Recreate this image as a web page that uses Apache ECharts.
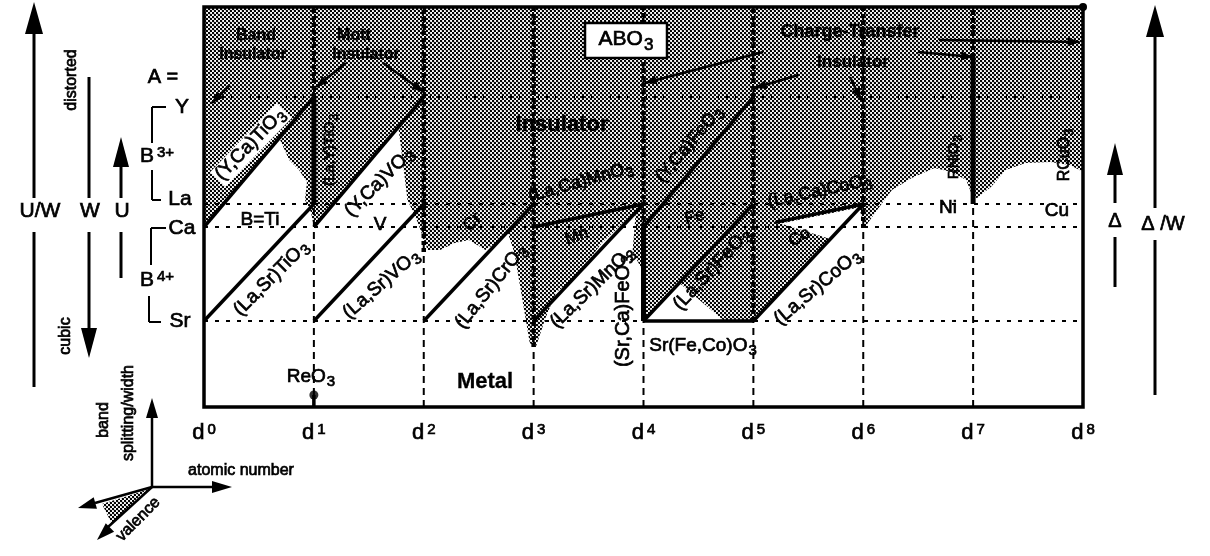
<!DOCTYPE html>
<html><head><meta charset="utf-8">
<script src="https://cdn.jsdelivr.net/npm/echarts@6/dist/echarts.min.js"></script>
<style>html,body{margin:0;padding:0;background:#fff}#c{width:1210px;height:556px}</style>
</head><body><div id="c"></div>
<script>
// ---------- data (in chart units: x = d-electron number, y = arbitrary level scale) ----------
const dTicks = [0, 1, 2, 3, 4, 5, 6, 7, 8];
const levelNames = ['Sr', 'Ca', 'La', 'Y'];
const levelValues = [8.6, 18.0, 20.3, 31.0];
const Sr = levelValues[0], Ca = levelValues[1], La = levelValues[2], Yv = levelValues[3];
const yTop = 40;

// insulator (shaded) region: upper boundary of the metallic region, left -> right
const insulatorBoundary = [
  [0, 40], [0, 18.0], [0.685, 26.9], [0.775, 24.7], [0.865, 23.7], [0.937, 22.5], [0.919, 20.7], [0.973, 19.5], [1.0, 18.0],
  [1.769, 28.0], [1.815, 24.0], [1.852, 20.7], [1.944, 18.5], [2.035, 15.7], [2.149, 15.7], [2.281, 16.4], [2.412, 16.7], [2.561, 15.7],
  [2.675, 16.5], [2.763, 17.5], [2.825, 15.4], [2.965, 6.4], [3.02, 6.0], [3.108, 8.9], [3.206, 11.5], [3.324, 12.4],
  [3.45, 13.9], [3.62, 16.4], [3.93, 19.6], [3.9, 15.5], [4.0, 13.5], [4.0, 8.6], [4.327, 12.4], [4.735, 8.6], [5.0, 8.6],
  [5.7, 16.8], [5.25, 18.35], [5.963, 19.95], [6.01, 17.9], [6.126, 19.7], [6.261, 21.7], [6.441, 22.9], [6.649, 23.9],
  [6.802, 23.5], [6.937, 22.7], [7.0, 20.9], [7.036, 20.9], [7.162, 22.0], [7.297, 23.7], [7.477, 24.4], [7.703, 24.5],
  [7.883, 24.2], [8.0, 23.5], [8, 40]
];

// compound series lines [x1, y1, x2, y2]
const compoundLines = [
  [0, Ca, 1, Yv], [0, Sr, 1, La],          // Ti
  [1, Ca, 2, Yv], [1, Sr, 2, La],          // V
  [2, Sr, 3, La],                          // Cr
  [3, Sr, 4, La], [3, Ca, 4, La],          // Mn
  [4, Ca, 5, Yv], [4, Sr, 5, La], [4, Sr, 5, Sr], // Fe
  [5, Sr, 6, La], [5.2, 18.46, 6, La],     // Co
  [1, 0, 1, 1.2]                           // ReO3 stem
];
const thickVerticals = [[1, La, 1, Yv], [4, Sr, 4, Ca], [7, La, 7, 35]];
const thickDotted = [[1, 31, 1, 40], [2, 15.5, 2, 40], [3, 6, 3, 40], [4, 18, 4, 40], [5, 8.6, 5, 40], [6, 17.9, 6, 40], [7, 35, 7, 40]];
const dashedVerticals = [1, 2, 3, 4, 5, 6, 7];
const reo3Point = [[1, 1.2]];

// annotation arrows [fromX, fromY, toX, toY] (head at "to")
const arrows = [
  [0.234, 32.2, 0.072, 30.4],
  [1.29, 34.4, 1.02, 32.0],
  [1.63, 34.4, 2.0, 31.5],
  [5.09, 35.5, 4.01, 32.4],
  [5.41, 33.2, 5.01, 31.9],
  [5.88, 33.0, 5.98, 30.7],
  [6.5, 35.5, 7.0, 35.0],
  [6.69, 36.7, 7.97, 36.5]
];

// ---------- helpers ----------
const FONT = '"Liberation Sans", Arial, Helvetica, sans-serif';
const pc = document.createElement('canvas'); pc.width = 4; pc.height = 4;
(function () {
  const g = pc.getContext('2d'); g.fillStyle = '#000';
  g.beginPath(); g.arc(1, 1, 1.25, 0, Math.PI * 2); g.fill();
  g.beginPath(); g.arc(3, 3, 1.25, 0, Math.PI * 2); g.fill();
})();
const shade = { image: pc, repeat: 'repeat' };

function richOf(str, size, bold) {
  let s = str.replace(/_(\d)/g, '}{s|$1}{a|').replace(/\^(\S+)/g, '}{p|$1}{a|');
  s = ('{a|' + s + '}').replace(/\{a\|\}/g, '');
  const w = bold ? 'bold' : 'normal';
  const sw = bold ? 0.3 : 0.7;
  const ss = Math.round(size * 0.8), ps = Math.round(size * 0.7);
  return {
    text: s,
    rich: {
      a: { fontSize: size, fontFamily: FONT, fontWeight: w, fill: '#000', stroke: '#000', lineWidth: sw, lineHeight: size + 2, verticalAlign: 'top' },
      s: { fontSize: ss, fontFamily: FONT, fontWeight: w, fill: '#000', stroke: '#000', lineWidth: sw, lineHeight: ss + 1, verticalAlign: 'top', padding: [Math.round(size * 0.38), 0, 0, 1] },
      p: { fontSize: ps, fontFamily: FONT, fontWeight: w, fill: '#000', stroke: '#000', lineWidth: sw, lineHeight: ps + 1, verticalAlign: 'top', padding: [0, 0, 0, 3] }
    }
  };
}
function txt(str, x, y, size, rot, bold, extra) {
  const st = Object.assign({ x: 0, y: 0, align: 'center', verticalAlign: 'middle' }, richOf(str, size, bold), extra || {});
  return { type: 'text', x: x, y: y, rotation: (rot || 0) * Math.PI / 180, z: 60, silent: true, style: st };
}
function gline(x1, y1, x2, y2, w, dash) {
  return { type: 'line', silent: true, z: 55, shape: { x1, y1, x2, y2 }, style: { stroke: '#000', lineWidth: w, lineDash: dash || null } };
}
function head(tx, ty, fx, fy, len, hw) {
  const dx = tx - fx, dy = ty - fy, L = Math.hypot(dx, dy), ux = dx / L, uy = dy / L;
  const bx = tx - ux * len, by = ty - uy * len;
  return { type: 'polygon', silent: true, z: 56, shape: { points: [[tx, ty], [bx - uy * hw, by + ux * hw], [bx + uy * hw, by - ux * hw]] }, style: { fill: '#000' } };
}

function segSeries(segs, width, dash, z) {
  return {
    type: 'custom', coordinateSystem: 'cartesian2d', z: z, silent: true, clip: false, animation: false,
    data: [[0, 0]],
    renderItem: function (params, api) {
      return {
        type: 'group', children: segs.map(function (s) {
          const a = api.coord([s[0], s[1]]), b = api.coord([s[2], s[3]]);
          return { type: 'line', shape: { x1: a[0], y1: a[1], x2: b[0], y2: b[1] }, style: { stroke: '#000', lineWidth: width, lineDash: dash || null, lineCap: 'butt' } };
        })
      };
    }
  };
}

const levelSegs = levelValues.map(v => [0, v, 8, v]);
const vSegs = dashedVerticals.map(d => [d, 0, d, yTop]);

const series = [
  { // shaded insulating region
    type: 'custom', coordinateSystem: 'cartesian2d', z: 1, silent: true, clip: false, animation: false, data: [[0, 0]],
    renderItem: function (params, api) {
      return { type: 'polygon', shape: { points: insulatorBoundary.map(p => api.coord(p)) }, style: { fill: shade } };
    }
  },
  segSeries([levelSegs[3]], 2, [2, 7], 3),
  segSeries(levelSegs.slice(0, 3), 2, [4, 7], 3),
  segSeries(vSegs, 2, [7, 5], 3),
  segSeries(thickDotted, 4.5, [4, 3], 4),
  segSeries(compoundLines, 3.5, null, 5),
  segSeries(thickVerticals, 5, null, 5),
  { // annotation arrows
    type: 'custom', coordinateSystem: 'cartesian2d', z: 6, silent: true, clip: false, animation: false, data: [[0, 0]],
    renderItem: function (params, api) {
      const ch = [];
      arrows.forEach(function (a) {
        const p = api.coord([a[0], a[1]]), q = api.coord([a[2], a[3]]);
        ch.push({ type: 'line', shape: { x1: p[0], y1: p[1], x2: q[0], y2: q[1] }, style: { stroke: '#000', lineWidth: 2.5 } });
        const dx = q[0] - p[0], dy = q[1] - p[1], L = Math.hypot(dx, dy), ux = dx / L, uy = dy / L;
        const bx = q[0] - ux * 12, by = q[1] - uy * 12;
        ch.push({ type: 'polygon', shape: { points: [[q[0], q[1]], [bx - uy * 4.5, by + ux * 4.5], [bx + uy * 4.5, by - ux * 4.5]] }, style: { fill: '#000' } });
      });
      return { type: 'group', children: ch };
    }
  },
  { // frame
    type: 'custom', coordinateSystem: 'cartesian2d', z: 7, silent: true, clip: false, animation: false, data: [[0, 0]],
    renderItem: function (params, api) {
      const a = api.coord([0, yTop]), b = api.coord([8, 0]);
      return { type: 'group', children: [
        { type: 'rect', shape: { x: a[0], y: a[1], width: b[0] - a[0], height: b[1] - a[1] }, style: { fill: null, stroke: '#000', lineWidth: 3.5 } },
        { type: 'circle', shape: { cx: b[0], cy: a[1], r: 4 }, style: { fill: '#000' } }
      ] };
    }
  },
  { type: 'scatter', data: reo3Point, symbolSize: 9, itemStyle: { color: '#000' }, z: 8, silent: true, animation: false }
];

// ---------- annotation texts / graphics (pixel layout) ----------
const g = [];
// left: big arrows
g.push(gline(34, 30, 34, 198, 3), gline(34, 232, 34, 387, 3), head(34, 2, 34, 40, 32, 9));
g.push(gline(89, 77, 89, 198, 3), gline(89, 232, 89, 332, 3), head(89, 358, 89, 300, 30, 8));
g.push(gline(121, 165, 121, 198, 3), gline(121, 232, 121, 278, 3), head(121, 137, 121, 200, 30, 8));
g.push(txt('U/W', 40, 212, 21), txt('W', 90, 212, 21), txt('U', 122, 212, 21));
g.push(txt('distorted', 73, 80, 16, 90), txt('cubic', 67, 336, 16, 90));
g.push(txt('A =', 163, 78, 20));
g.push(txt('Y', 182, 108, 21), txt('La', 180, 200, 21), txt('Ca', 182, 229, 21), txt('Sr', 180, 322, 21));
g.push(txt('B^3+', 140, 157, 21, 0, false, { align: 'left' }), txt('B^4+', 140, 281, 21, 0, false, { align: 'left' }));
g.push(gline(152, 107, 166, 107, 2), gline(152, 107, 152, 143, 2), gline(152, 170, 152, 200, 2), gline(152, 200, 161, 200, 2));
g.push(gline(151, 228, 166, 228, 2), gline(151, 228, 151, 265, 2), gline(149, 296, 149, 322, 2), gline(149, 322, 161, 322, 2));
// right arrows
g.push(gline(1115, 175, 1115, 203, 3), gline(1115, 237, 1115, 287, 3), head(1115, 143, 1115, 200, 32, 8));
g.push(gline(1155, 37, 1155, 208, 3), gline(1155, 240, 1155, 395, 3), head(1155, 5, 1155, 60, 32, 9));
g.push(txt('Δ', 1115, 222, 20), txt('Δ /W', 1163, 225, 20));
// bottom-left axes key
g.push({ type: 'polygon', silent: true, z: 50, shape: { points: [[150, 489], [102, 504], [112, 524]] }, style: { fill: shade } });
g.push(gline(152, 487, 152, 416, 2.5), head(152, 398, 152, 487, 20, 6));
g.push(gline(152, 487, 214, 487, 2.5), head(232, 487, 152, 487, 20, 6));
g.push(gline(152, 487, 95, 503, 2.5), head(78, 508, 152, 487, 18, 6));
g.push(gline(152, 487, 108, 527, 2.5), head(97, 540, 152, 487, 18, 6));
g.push(txt('atomic number', 241, 472, 16), txt('band', 105, 420, 16, 90), txt('splitting/width', 130, 413, 16, 90), txt('valence', 139, 520, 16, 45));
// ABO3 box
g.push({ type: 'rect', silent: true, z: 58, shape: { x: 585, y: 23, width: 82, height: 35 }, style: { fill: '#fff', stroke: '#000', lineWidth: 2.5 } });
g.push(txt('ABO_3', 626, 40, 21));
// region titles
g.push(txt('Band', 256, 37, 16, 0, true), txt('Insulator', 253, 56, 16, 0, true));
g.push(txt('Mott', 354, 37, 16, 0, true), txt('Insulator', 366, 56, 16, 0, true));
g.push(txt('Insulator', 562, 126, 22, 0, true));
g.push(txt('Charge-Transfer', 850, 33, 18, 0, true), txt('Insulator', 853, 63, 17, 0, true));
g.push(txt('Metal', 485, 383, 22, 0, true));
// element / compound labels
const labelTexts = [
  ['B=Ti', 260, 221, 19, 0], ['V', 380, 226, 19, 0], ['Cr', 473, 223, 17, 45], ['Mn', 577, 237, 17, 20],
  ['Fe', 695, 218, 17, 15], ['Co', 800, 238, 17, 30], ['Ni', 948, 209, 19, 0], ['Cu', 1057, 212, 19, 0],
  ['RNiO_3', 955, 157, 15, 90], ['RCuO_3', 1066, 155, 16, 90], ['(La,Y)TiO_3', 331, 150, 15, 90],
  ['(La,Sr)TiO_3', 272, 279, 19, 45], ['(Y,Ca)VO_3', 380, 183, 19, 45], ['(La,Sr)VO_3', 382, 285, 19, 41],
  ['(La,Sr)CrO_3', 492, 287, 19, 51], ['(La,Ca)MnO_3', 581, 183, 18, 16], ['(La,Sr)MnO_3', 593, 288, 19, 44],
  ['(Y,Ca)FeO_3', 690, 145, 18, 50], ['(Sr,Ca)FeO_3', 624, 311, 20, 90], ['(La,Sr)FeO_3', 713, 270, 19, 47],
  ['Sr(Fe,Co)O_3', 703, 347, 19, 0], ['(La,Ca)CoO_3', 820, 192, 18, 12], ['(La,Sr)CoO_3', 818, 288, 19, 40],
  ['ReO_3', 311, 378, 19, 0]
];
labelTexts.forEach(l => g.push(txt(l[0], l[1], l[2], l[3], l[4])));
g.push(txt('(Y,Ca)TiO_3', 251, 145, 19, 46, false, { backgroundColor: '#fff', padding: [0, 2, 0, 2] }));

const chart = echarts.init(document.getElementById('c'), null, { renderer: 'canvas' });
chart.setOption({
  animation: false,
  backgroundColor: '#fff',
  grid: { left: 204, right: 127, top: 7, bottom: 149, containLabel: false },
  xAxis: {
    type: 'value', min: 0, max: 8, interval: 1,
    axisLine: { show: false }, axisTick: { show: false }, splitLine: { show: false },
    axisLabel: {
      showMinLabel: true, showMaxLabel: true, margin: 15,
      formatter: v => '{d|d}{s|' + v + '}',
      rich: {
        d: { fontSize: 22, fontFamily: FONT, color: '#000', textBorderColor: '#000', textBorderWidth: 0.7, lineHeight: 26, verticalAlign: 'top' },
        s: { fontSize: 15, fontFamily: FONT, color: '#000', textBorderColor: '#000', textBorderWidth: 0.7, lineHeight: 16, verticalAlign: 'top', padding: [0, 0, 0, 3] }
      }
    }
  },
  yAxis: { type: 'value', min: 0, max: yTop, show: false, splitLine: { show: false } },
  series: series,
  graphic: { elements: g }
});
</script>
</body></html>
